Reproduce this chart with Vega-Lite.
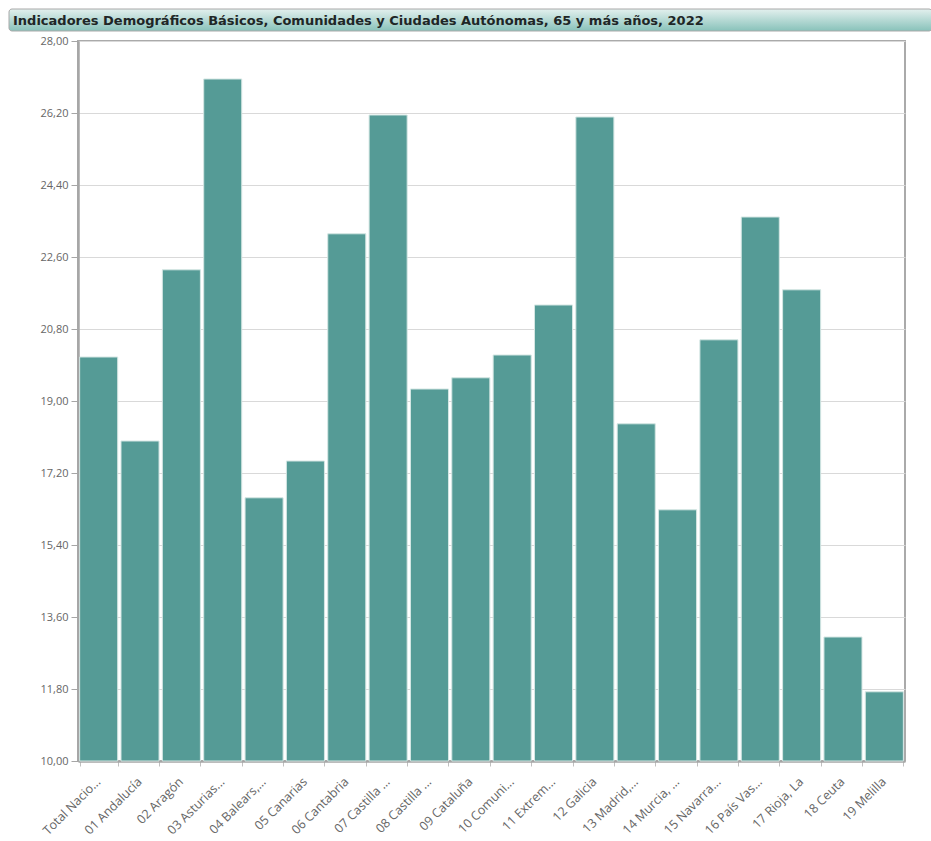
{
  "$schema": "https://vega.github.io/schema/vega-lite/v6.json",
  "padding": {"left": 8, "top": 8, "right": 0, "bottom": 0},
  "background": "white",
  "spacing": 2,
  "config": {
    "view": {"stroke": null},
    "axis": {"labelFont": "Open Sans", "labelFontSize": 11, "labelColor": "#666666", "title": null}
  },
  "vconcat": [
    {
      "width": 923,
      "height": 22,
      "data": {"values": [{"t": "Indicadores Demográficos Básicos, Comunidades y Ciudades Autónomas, 65 y más años, 2022"}]},
      "layer": [
        {
          "mark": {
            "type": "rect",
            "cornerRadius": 3,
            "stroke": "#a9a9a9",
            "strokeWidth": 1,
            "fill": {"gradient": "linear", "x1": 0, "y1": 0, "x2": 0, "y2": 1,
              "stops": [{"offset": 0, "color": "#e3f0ee"}, {"offset": 1, "color": "#88c2ba"}]}
          },
          "encoding": {
            "x": {"datum": 0, "type": "quantitative", "scale": {"domain": [0, 1]}, "axis": null},
            "x2": {"datum": 1},
            "y": {"datum": 0, "type": "quantitative", "scale": {"domain": [0, 1]}, "axis": null},
            "y2": {"datum": 1}
          }
        },
        {
          "mark": {"type": "text", "align": "left", "baseline": "middle", "dx": 4, "dy": 1, "font": "DejaVu Sans", "fontWeight": "bold", "fontSize": 13, "color": "#1e2626"},
          "encoding": {
            "x": {"datum": 0, "type": "quantitative"},
            "y": {"datum": 0.5, "type": "quantitative"},
            "text": {"field": "t"}
          }
        }
      ]
    },
    {
      "spacing": 0,
      "hconcat": [
        {
          "width": 1,
          "height": 720,
          "data": {"values": []},
          "mark": "point"
        },
        {
          "width": 827,
          "height": 720,
          "view": {"stroke": "#aaaaaa", "strokeWidth": 2},
          "data": {"values": [
            {"region": "Total Nacio...", "value": 20.10},
            {"region": "01 Andalucía", "value": 18.00},
            {"region": "02 Aragón", "value": 22.28},
            {"region": "03 Asturias...", "value": 27.05},
            {"region": "04 Balears,...", "value": 16.58},
            {"region": "05 Canarias", "value": 17.50},
            {"region": "06 Cantabria", "value": 23.18},
            {"region": "07 Castilla ...", "value": 26.15},
            {"region": "08 Castilla ...", "value": 19.30},
            {"region": "09 Cataluña", "value": 19.58},
            {"region": "10 Comuni...", "value": 20.15},
            {"region": "11 Extrem...", "value": 21.40},
            {"region": "12 Galicia", "value": 26.10},
            {"region": "13 Madrid,...", "value": 18.43},
            {"region": "14 Murcia, ...", "value": 16.28},
            {"region": "15 Navarra...", "value": 20.53},
            {"region": "16 País Vas...", "value": 23.60},
            {"region": "17 Rioja, La", "value": 21.78},
            {"region": "18 Ceuta", "value": 13.10},
            {"region": "19 Melilla", "value": 11.73}
          ]},
          "mark": {"type": "bar", "color": "#559b96", "stroke": "#d4e6e3", "strokeWidth": 1},
          "encoding": {
            "x": {
              "field": "region", "type": "nominal", "sort": null,
              "scale": {"paddingInner": 0.08, "paddingOuter": 0.04},
              "axis": {"labelAngle": -45, "labelFontSize": 12.5, "tickBand": "extent", "domainColor": "#a6a6a6", "domainWidth": 2.5, "tickColor": "#c0c0c0", "tickSize": 5, "labelPadding": 9, "labelOffset": -5}
            },
            "y": {
              "field": "value", "type": "quantitative",
              "scale": {"domain": [10, 28], "nice": false, "zero": false},
              "axis": {
                "values": [10, 11.8, 13.6, 15.4, 17.2, 19, 20.8, 22.6, 24.4, 26.2, 28],
                "labelExpr": "replace(format(datum.value, '.2f'), '.', ',')",
                "gridColor": "#d9d9d9", "domainColor": "#a6a6a6", "domainWidth": 2.5,
                "tickColor": "#a6a6a6", "tickSize": 7, "labelPadding": 3, "minExtent": 67
              }
            },
            "y2": {"datum": 10}
          }
        }
      ]
    }
  ]
}
